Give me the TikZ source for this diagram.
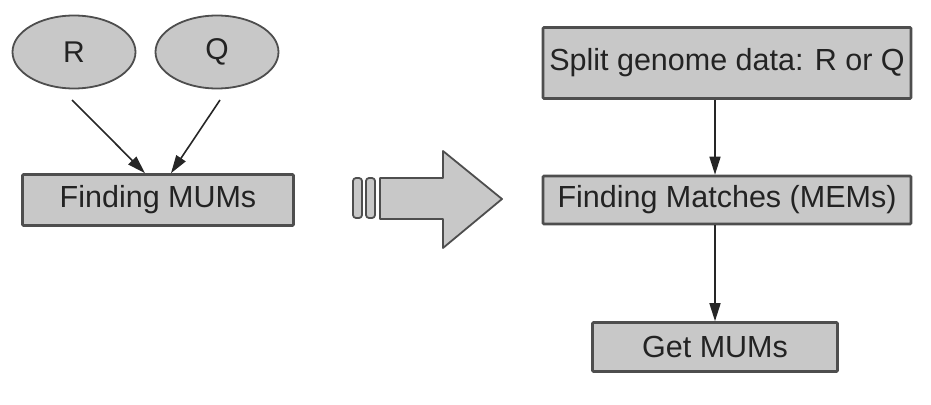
\documentclass[tikz,border=0pt]{standalone}
\usepackage{fontspec}
\setmainfont{Liberation Sans}
\usepackage{tikz}
\usetikzlibrary{arrows.meta}
\usetikzlibrary{shapes.geometric}
\definecolor{boxgray}{RGB}{200,200,200}
\definecolor{linegray}{RGB}{78,78,78}
\definecolor{textgray}{RGB}{35,35,35}
\tikzstyle{seqnode}=[ellipse, draw=linegray, fill=boxgray, line width=1.8pt, text=textgray, font=\fontsize{30}{31}\selectfont, minimum width=123pt, minimum height=73pt]
\tikzstyle{procbox}=[rectangle, draw=linegray, fill=boxgray, line width=2.6pt, rounded corners=1pt, text=textgray, font=\fontsize{30.5}{31}\selectfont, inner sep=0pt]
\tikzstyle{arrow}=[draw=black!85, line width=1.6pt, -{Triangle[length=18pt,width=11pt]}]
\tikzstyle{bigarrow}=[draw=linegray, fill=boxgray, line width=1.8pt, line join=round]

\begin{document}
\begin{tikzpicture}[x=1pt, y=-1pt]
		   \useasboundingbox (0,0) rectangle (931,404);
		   \begin{scope}
			   \node (R) at (74,52)[seqnode] {R};
			   \node (Q) at (217,52)[seqnode] {Q};
			   \node (mums) at (158,200)[procbox, minimum width=271pt, minimum height=51pt] {Finding MUMs};
			   \coordinate (rtail) at (72,100);
			   \coordinate (qtail) at (220,100);
		   \end{scope}
		   \begin{scope}
			   \draw [arrow] (rtail) -- ([xshift=-13pt]mums.north);
			   \draw [arrow] (qtail) -- ([xshift=13pt]mums.north);
		   \end{scope}
		   % the big arrow in the middle
		   \begin{scope}
			   \draw [bigarrow, rounded corners=3pt] (353,178) rectangle (362,218);
			   \draw [bigarrow, rounded corners=3pt] (366,178) rectangle (375,218);
			   \draw [bigarrow] (380,178) -- (443,178) -- (443,151) -- (502,199)
			       -- (443,248) -- (443,219) -- (380,219) -- cycle;
		   \end{scope}
		   \begin{scope}
			   \node (split) at (727,63)[procbox, minimum width=368pt, minimum height=71pt] {Split genome data: R or Q};
			   \node (mems) at (727,200)[procbox, minimum width=368pt, minimum height=48pt] {Finding Matches (MEMs)};
			   \node (getmums) at (715,347)[procbox, minimum width=245pt, minimum height=49pt] {Get MUMs};
		   \end{scope}
		   \begin{scope}
			   \draw [arrow] (split.south -| getmums.north) -- (mems.north -| getmums.north);
			   \draw [arrow] (mems.south -| getmums.north) -- (getmums.north);
		   \end{scope}
	   \end{tikzpicture}
\end{document}
